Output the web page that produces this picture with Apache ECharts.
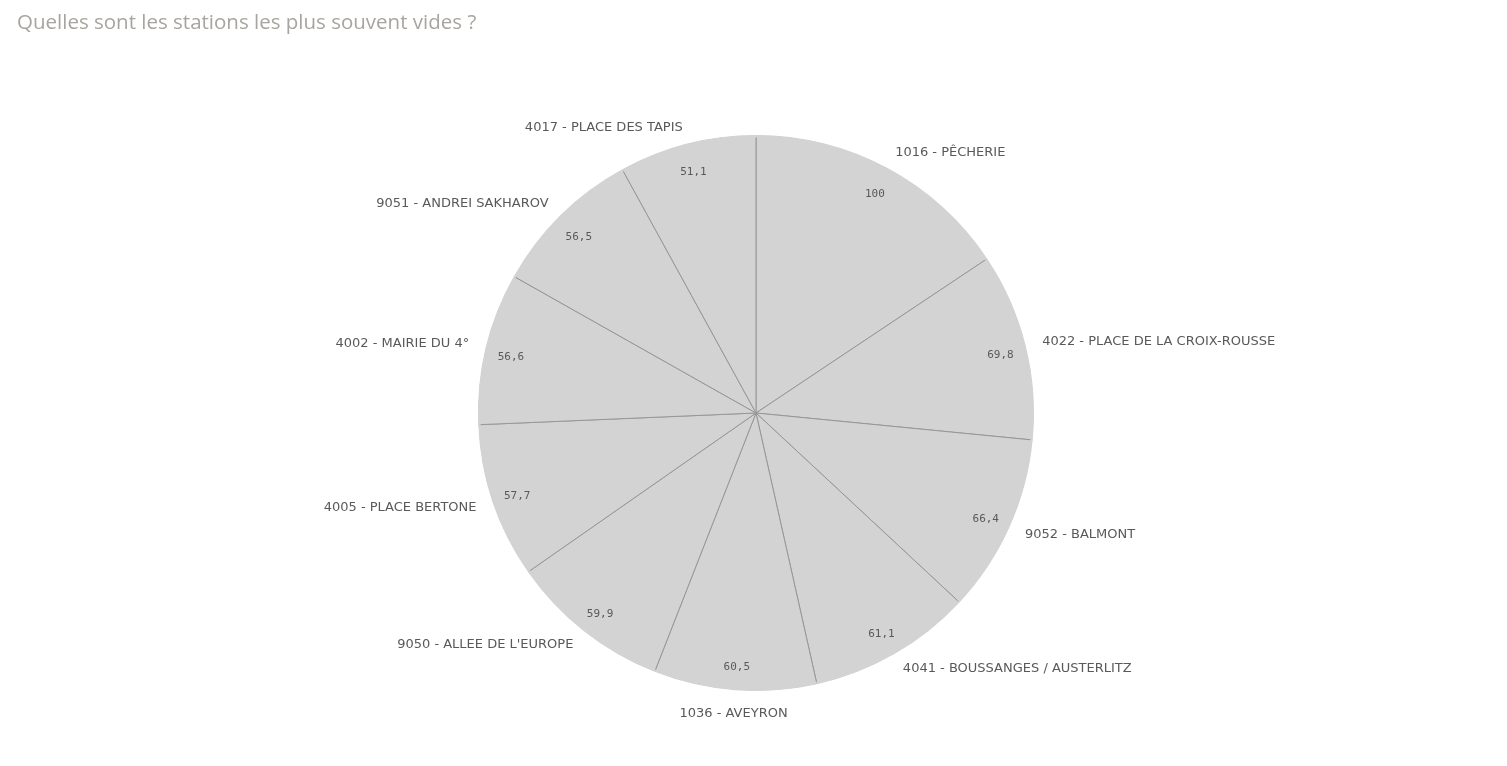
<!DOCTYPE html>
<html>
<head>
<meta charset="utf-8">
<script src="https://cdn.jsdelivr.net/npm/echarts@6/dist/echarts.min.js"></script>
<style>
html,body{margin:0;padding:0;background:#fff;}
#c{width:1507px;height:766px;}
</style>
</head>
<body>
<div id="c"></div>
<script>
const titleText = 'Quelles sont les stations les plus souvent vides ?';
const stations = [
  '1016 - PÊCHERIE',
  '4022 - PLACE DE LA CROIX-ROUSSE',
  '9052 - BALMONT',
  '4041 - BOUSSANGES / AUSTERLITZ',
  '1036 - AVEYRON',
  '9050 - ALLEE DE L\'EUROPE',
  '4005 - PLACE BERTONE',
  '4002 - MAIRIE DU 4°',
  '9051 - ANDREI SAKHAROV',
  '4017 - PLACE DES TAPIS'
];
const values = [100, 69.8, 66.4, 61.1, 60.5, 59.9, 57.7, 56.6, 56.5, 51.1];

const data = stations.map((n, i) => ({ name: n, value: values[i] }));
const fmt = v => String(v).replace('.', ',');
const FONT = '"DejaVu Sans", "Open Sans", sans-serif';
const TFONT = '"Open Sans", Roboto, sans-serif';
const MONO = '"DejaVu Sans Mono", "Liberation Mono", monospace';
const center = [756, 413];
const R = 277;

// Outside labels: anchored at the end of the (invisible) label line produced by the library.
// Side labels are left/right aligned on the anchor; labels nearly straight above/below are centred.
function outerLayout(p) {
  const pts = p.labelLinePoints;
  if (!pts) return {};
  const a = pts[0], b = pts[1];
  const dx = b[0] - a[0], dy = b[1] - a[1];
  const len = Math.sqrt(dx * dx + dy * dy) || 1;
  const ux = dx / len, uy = dy / len;
  const h = p.labelRect.height;
  if (Math.abs(ux) < 0.15) {
    return { x: b[0], y: b[1] + uy * h / 2, align: 'center', verticalAlign: 'middle' };
  }
  return { x: b[0], y: b[1], align: ux > 0 ? 'left' : 'right', verticalAlign: 'middle' };
}

const chart = echarts.init(document.getElementById('c'), null, { renderer: 'canvas' });
chart.setOption({
  backgroundColor: '#ffffff',
  animation: false,
  title: {
    text: titleText,
    left: 12, top: 8,
    textStyle: { color: '#a8a49f', fontSize: 20.5, fontWeight: 'normal', fontFamily: TFONT }
  },
  series: [
    {
      type: 'pie',
      center: center,
      radius: [0, R],
      startAngle: 90,
      clockwise: true,
      avoidLabelOverlap: false,
      silent: true,
      data: data,
      itemStyle: { color: '#d3d3d3', borderColor: '#979797', borderWidth: 1 },
      label: {
        show: true, position: 'outside',
        formatter: '{b}', color: '#595959', fontSize: 13, fontFamily: FONT
      },
      labelLine: { show: true, length: 18, length2: 0, lineStyle: { opacity: 0, width: 0 } },
      labelLayout: outerLayout
    },
    {
      type: 'pie',
      center: center,
      radius: [R - 1.5, R + 1],
      startAngle: 90,
      clockwise: true,
      silent: true,
      data: data,
      itemStyle: { color: '#d3d3d3', borderWidth: 0 },
      label: { show: false },
      labelLine: { show: false }
    },
    {
      type: 'pie',
      center: center,
      radius: [R - 56, R],
      startAngle: 90,
      clockwise: true,
      silent: true,
      data: data,
      itemStyle: { color: 'rgba(0,0,0,0)', borderWidth: 0 },
      label: {
        show: true, position: 'inside',
        formatter: p => fmt(p.value),
        color: '#595959', fontSize: 11, fontFamily: MONO,
        offset: [0, 3]
      },
      labelLine: { show: false }
    }
  ]
});
</script>
</body>
</html>
